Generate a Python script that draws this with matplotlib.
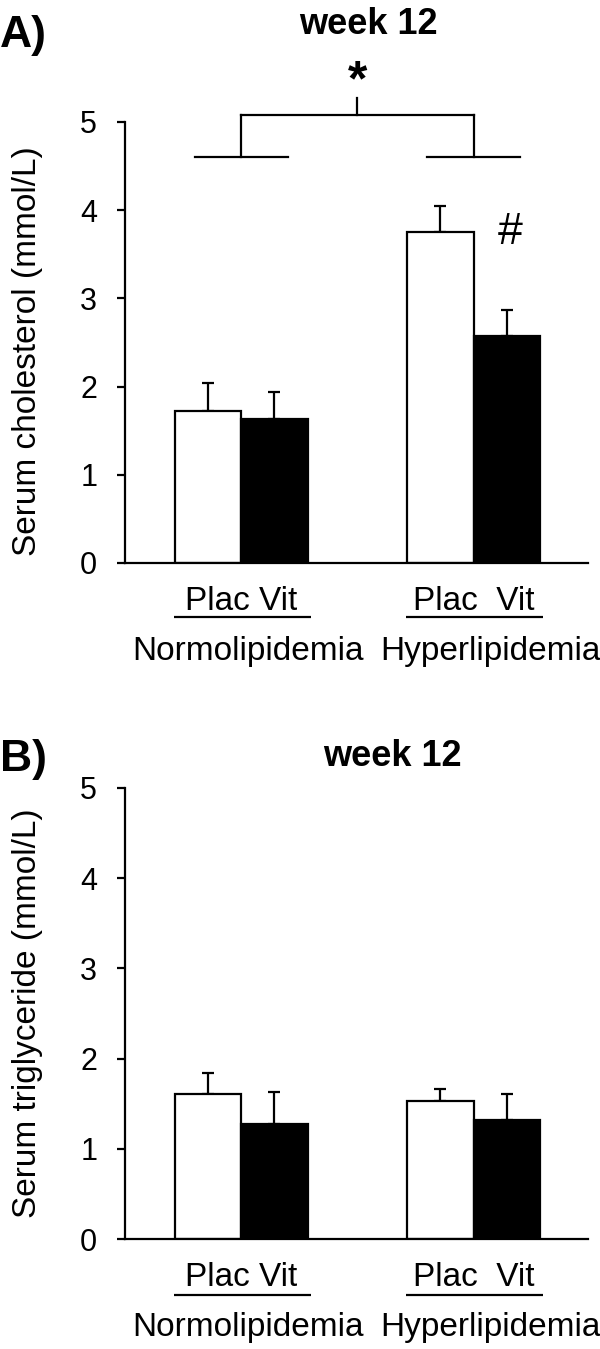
import numpy as np
import matplotlib
matplotlib.use("Agg")
import matplotlib.pyplot as plt

plt.rcParams['font.family'] = ['Liberation Sans', 'DejaVu Sans']

# data
groups = ['Normolipidemia', 'Hyperlipidemia']
treat_labels = ['Plac Vit', 'Plac  Vit']

chol_plac = [1.72, 3.75]
chol_vit = [1.63, 2.57]
chol_plac_err = [0.32, 0.30]
chol_vit_err = [0.31, 0.30]

tg_plac = [1.61, 1.53]
tg_vit = [1.27, 1.32]
tg_plac_err = [0.23, 0.13]
tg_vit_err = [0.36, 0.29]

yticks = [0, 1, 2, 3, 4, 5]

centers = np.array([1.76, 5.27])
group_text_x = [1.86, 5.52]
LW = 1.6

fig = plt.figure(figsize=(6, 13.49), dpi=100)
axA = fig.add_axes([0.2083, 0.5827, 0.7717, 0.3269])
axB = fig.add_axes([0.2083, 0.0815, 0.7717, 0.3344])


def draw_panel(ax, plac, vit, plac_err, vit_err, ylabel, ylab_y):
    ax.bar(centers - 0.5, plac, width=1.0, color='white', edgecolor='black', linewidth=LW, zorder=2)
    ax.bar(centers + 0.5, vit, width=1.0, color='black', edgecolor='black', linewidth=LW, zorder=2)
    ax.errorbar(centers - 0.5, plac, yerr=[np.zeros(2), plac_err], fmt='none',
                ecolor='black', elinewidth=LW, capsize=4.5, capthick=LW, zorder=1)
    ax.errorbar(centers + 0.5, vit, yerr=[np.zeros(2), vit_err], fmt='none',
                ecolor='black', elinewidth=LW, capsize=4.5, capthick=LW, zorder=1)
    ax.set_xlim(0, 7)
    ax.set_ylim(0, 5)
    ax.set_yticks(yticks)
    ax.set_xticks([])
    for s in ['top', 'right']:
        ax.spines[s].set_visible(False)
    for s in ['left', 'bottom']:
        ax.spines[s].set_linewidth(LW)
    ax.tick_params(axis='y', direction='out', length=6, width=LW, pad=14, labelsize=22)
    ax.set_ylabel(ylabel, fontsize=24)
    ax.yaxis.set_label_coords(-0.177, ylab_y)

    tr = ax.get_xaxis_transform()
    for c, lab in zip(centers, treat_labels):
        ax.annotate(lab, xy=(c, 0), xycoords=tr, xytext=(0, -28), textcoords='offset points',
                    ha='center', va='center', fontsize=24, annotation_clip=False)
        # underline below Plac/Vit
        ax.plot([c - 1.02, c + 1.05], [-0.123, -0.123], transform=tr, color='black',
                lw=LW, clip_on=False, solid_capstyle='butt')
    for gx, g in zip(group_text_x, groups):
        ax.annotate(g, xy=(gx, 0), xycoords=tr, xytext=(0, -64), textcoords='offset points',
                    ha='center', va='center', fontsize=24, annotation_clip=False)


draw_panel(axA, chol_plac, chol_vit, chol_plac_err, chol_vit_err,
           'Serum cholesterol (mmol/L)', 0.48)
draw_panel(axB, tg_plac, tg_vit, tg_plac_err, tg_vit_err,
           'Serum triglyceride (mmol/L)', 0.5)

# significance bracket in panel A
br_low = 4.6
br_top = 5.08
br_peak = 5.27
for c in centers:
    axA.plot([c - 0.7, c + 0.7], [br_low, br_low], color='black', lw=LW, clip_on=False)
    axA.plot([c, c], [br_low, br_top], color='black', lw=LW, clip_on=False)
axA.plot([centers[0], centers[1]], [br_top, br_top], color='black', lw=LW, clip_on=False)
mid = centers.mean()
axA.plot([mid, mid], [br_top, br_peak], color='black', lw=LW, clip_on=False)
axA.text(mid, 5.45, '*', ha='center', va='center', fontsize=36, fontweight='bold', clip_on=False)
axA.text(5.83, 3.75, '#', ha='center', va='center', fontsize=32)

fig.text(368 / 600, 1 - 25 / 1349, 'week 12', ha='center', va='center', fontsize=26, fontweight='bold')
fig.text(392 / 600, 1 - 757 / 1349, 'week 12', ha='center', va='center', fontsize=26, fontweight='bold')
fig.text(0.0, 1 - 35 / 1349, 'A)', ha='left', va='center', fontsize=32, fontweight='bold')
fig.text(0.0, 1 - 760 / 1349, 'B)', ha='left', va='center', fontsize=32, fontweight='bold')

fig.savefig('out.png', dpi=100)
